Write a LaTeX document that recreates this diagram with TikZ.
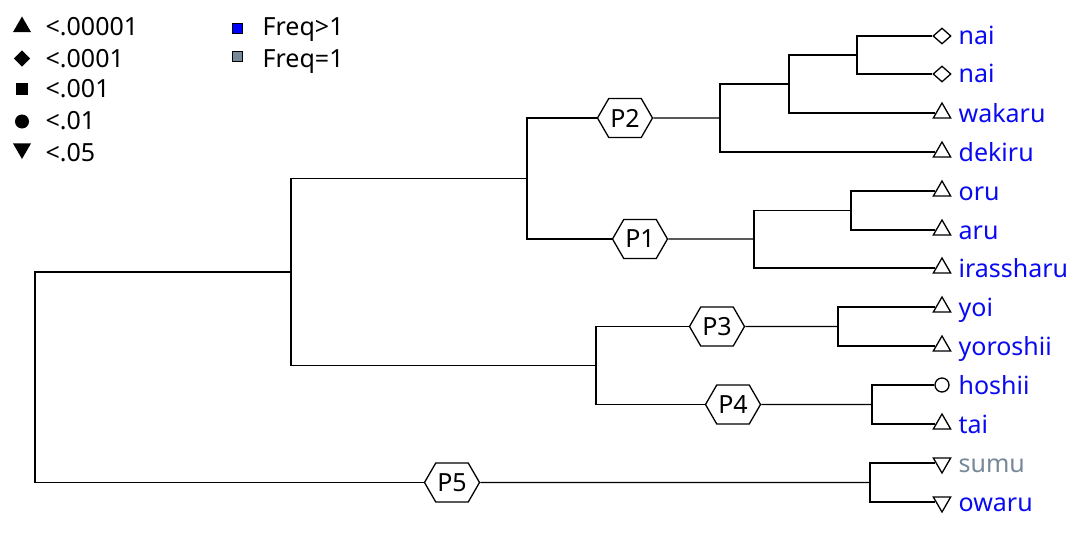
\documentclass[tikz,border=0pt]{standalone}
\usepackage{fontspec}
\setmainfont{Noto Sans}
\usetikzlibrary{shapes.geometric,shapes.symbols}
\definecolor{slate}{RGB}{119,136,153}
\definecolor{leafblue}{RGB}{10,10,240}
\begin{document}
\begin{tikzpicture}[x=1pt,y=-1pt,line width=1.3pt,
  txt/.style={anchor=base west,inner sep=0pt,font=\fontsize{25}{29}\selectfont},
  leaf/.style={txt,text=leafblue},
  hex/.style={signal,signal to=east and west,signal pointer angle=120,draw,fill=white,
    minimum width=55pt,minimum height=39pt,inner sep=0pt,font=\fontsize{25}{29}\selectfont},
  otri/.style={regular polygon,regular polygon sides=3,draw,fill=white,minimum size=20pt,inner sep=0pt},
  oinv/.style={otri,shape border rotate=180},
  odia/.style={diamond,draw,fill=white,minimum width=18pt,minimum height=16pt,inner sep=0pt},
  ocirc/.style={circle,draw,fill=white,minimum size=14pt,inner sep=0pt},
  ftri/.style={regular polygon,regular polygon sides=3,fill=black,minimum size=21pt,inner sep=0pt},
  finv/.style={ftri,shape border rotate=180},
  fdia/.style={diamond,fill=black,minimum width=17pt,minimum height=17pt,inner sep=0pt},
  fsq/.style={rectangle,fill=black,minimum size=12pt,inner sep=0pt},
  fcirc/.style={circle,fill=black,minimum size=14pt,inner sep=0pt},
  freqsq/.style={rectangle,draw,line width=0.8pt,minimum size=10pt,inner sep=0pt}
]
\useasboundingbox (0,0) rectangle (1072,535);
% legend
\node[ftri] (lg1) at (22,27) {};
\node[fdia] (lg2) at (22,58.5) {};
\node[fsq] (lg3) at (22,89.5) {};
\node[fcirc] (lg4) at (22,121.5) {};
\node[finv] (lg5) at (22,148.5) {};
\node[txt] (lt1) at (45,36) {<.00001};
\node[txt] (lt2) at (45,67) {<.0001};
\node[txt] (lt3) at (45,98) {<.001};
\node[txt] (lt4) at (45,129) {<.01};
\node[txt] (lt5) at (45,161) {<.05};
\node[freqsq,fill=blue] (fq1) at (237,28) {};
\node[freqsq,fill=slate] (fq2) at (237,56.5) {};
\node[txt] (ft1) at (262,36) {Freq>1};
\node[txt] (ft2) at (262,67) {Freq=1};
% leaf markers
\node[odia] (m1) at (942,36) {};
\node[odia] (m2) at (942,74) {};
\node[otri] (m3) at (942,113) {};
\node[otri] (m4) at (942,152) {};
\node[otri] (m5) at (942,191) {};
\node[otri] (m6) at (942,230) {};
\node[otri] (m7) at (942,268) {};
\node[otri] (m8) at (942,307) {};
\node[otri] (m9) at (942,346) {};
\node[ocirc] (m10) at (942,385) {};
\node[otri] (m11) at (942,424) {};
\node[oinv] (m12) at (942,463) {};
\node[oinv] (m13) at (942,502) {};
% leaf labels
\node[leaf] (l1) at (958,45) {nai};
\node[leaf] (l2) at (958,83) {nai};
\node[leaf] (l3) at (958,122) {wakaru};
\node[leaf] (l4) at (958,161) {dekiru};
\node[leaf] (l5) at (958,200) {oru};
\node[leaf] (l6) at (958,239) {aru};
\node[leaf] (l7) at (958,277) {irassharu};
\node[leaf] (l8) at (958,316) {yoi};
\node[leaf] (l9) at (958,355) {yoroshii};
\node[leaf] (l10) at (958,394) {hoshii};
\node[leaf] (l11) at (958,433) {tai};
\node[leaf,text=slate] (l12) at (958,472) {sumu};
\node[leaf] (l13) at (958,511) {owaru};
% pattern labels
\node[hex] (P2) at (625,118) {P2};
\node[hex] (P1) at (640,239) {P1};
\node[hex] (P3) at (717,326.5) {P3};
\node[hex] (P4) at (733,404.5) {P4};
\node[hex] (P5) at (452,482.5) {P5};
% junctions
\coordinate (j1) at (857,55);
\coordinate (j2) at (789,84);
\coordinate (j3) at (720,118);
\coordinate (j4) at (527,178.5);
\coordinate (j5) at (851,210.5);
\coordinate (j6) at (754,239);
\coordinate (j7) at (838,326.5);
\coordinate (j8) at (596,365.5);
\coordinate (j9) at (872,404.5);
\coordinate (j10) at (291,272);
\coordinate (j11) at (870,482.5);
\coordinate (root) at (35,377);
% tree edges
\draw (j1) |- (m1); \draw (j1) |- (m2);
\draw (j2) |- (j1); \draw (j2) |- (m3);
\draw (j3) |- (j2); \draw (j3) |- (m4);
\draw (j5) |- (m5); \draw (j5) |- (m6);
\draw (j6) |- (j5); \draw (j6) |- (m7);
\draw (j7) |- (m8); \draw (j7) |- (m9);
\draw (j9) |- (m10); \draw (j9) |- (m11);
\draw (j11) |- (m12); \draw (j11) |- (m13);
\draw (j4) |- (P2); \draw (P2) -- (j3);
\draw (j4) |- (P1); \draw (P1) -- (j6);
\draw (j8) |- (P3); \draw (P3) -- (j7);
\draw (j8) |- (P4); \draw (P4) -- (j9);
\draw (j10) |- (j4); \draw (j10) |- (j8);
\draw (root) |- (j10); \draw (root) |- (P5); \draw (P5) -- (j11);
\end{tikzpicture}
\end{document}
